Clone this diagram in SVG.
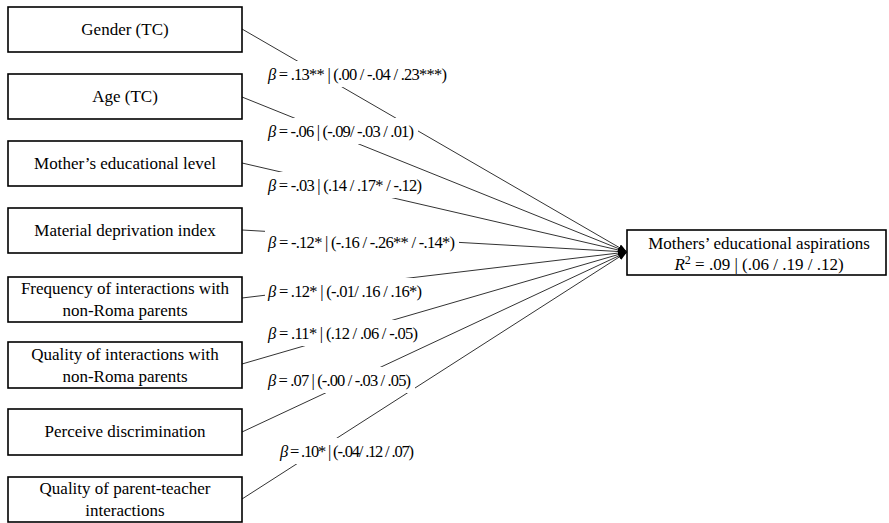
<svg xmlns="http://www.w3.org/2000/svg" width="889" height="523" viewBox="0 0 889 523">
<defs>
<style>
.box{fill:#fff;stroke:#000;stroke-width:1.6}
.bt{font-family:"Liberation Serif","Times New Roman",serif;font-size:17px;fill:#000;text-anchor:middle}
.ln{stroke:#333;stroke-width:1;fill:none;marker-end:url(#ah)}
.lb{fill:#fff;stroke:none}
.lt{font-family:"Liberation Serif","Times New Roman",serif;font-size:16.5px;fill:#000}
.it{font-style:italic}
</style>
<marker id="ah" viewBox="0 0 9 7" refX="9" refY="3.5" markerWidth="9" markerHeight="7" markerUnits="userSpaceOnUse" orient="auto">
<path d="M0,0 L9,3.5 L0,7 z" fill="#000"/>
</marker>
</defs>
<rect width="889" height="523" fill="#fff"/>

<g id="connectors">
<line class="ln" x1="242" y1="29" x2="627" y2="252"/>
<line class="ln" x1="242" y1="97" x2="627" y2="252"/>
<line class="ln" x1="242" y1="163" x2="627" y2="252"/>
<line class="ln" x1="242" y1="230" x2="627" y2="252"/>
<line class="ln" x1="242" y1="298" x2="627" y2="252"/>
<line class="ln" x1="242" y1="364" x2="627" y2="252"/>
<line class="ln" x1="242" y1="432" x2="627" y2="252"/>
<line class="ln" x1="242" y1="499" x2="627" y2="252"/>

<rect class="lb" x="265" y="61" width="185" height="26"/>
<text class="lt" x="268" y="80" textLength="179" lengthAdjust="spacing"><tspan class="it">β</tspan> = .13** | (.00 / -.04 / .23***)</text>
<rect class="lb" x="265" y="118" width="153" height="26"/>
<text class="lt" x="268" y="137" textLength="146" lengthAdjust="spacing"><tspan class="it">β</tspan> = -.06 | (-.09/ -.03 / .01)</text>
<rect class="lb" x="265" y="172" width="161" height="26"/>
<text class="lt" x="268" y="191" textLength="154" lengthAdjust="spacing"><tspan class="it">β</tspan> = -.03 | (.14 / .17* / -.12)</text>
<rect class="lb" x="265" y="229" width="194" height="26"/>
<text class="lt" x="268" y="248" textLength="187" lengthAdjust="spacing"><tspan class="it">β</tspan> = -.12* | (-.16 / -.26** / -.14*)</text>
<rect class="lb" x="265" y="278" width="161" height="26"/>
<text class="lt" x="268" y="297" textLength="154" lengthAdjust="spacing"><tspan class="it">β</tspan> = .12* | (-.01/ .16 / .16*)</text>
<rect class="lb" x="265" y="320" width="157" height="26"/>
<text class="lt" x="268" y="339" textLength="150" lengthAdjust="spacing"><tspan class="it">β</tspan> = .11* | (.12 / .06 / -.05)</text>
<rect class="lb" x="265" y="367" width="150" height="26"/>
<text class="lt" x="268" y="386" textLength="143" lengthAdjust="spacing"><tspan class="it">β</tspan> = .07 | (-.00 / -.03 / .05)</text>
<rect class="lb" x="277" y="438" width="141" height="26"/>
<text class="lt" x="280" y="457" textLength="134" lengthAdjust="spacing"><tspan class="it">β</tspan> = .10* | (-.04/ .12 / .07)</text>
</g>

<g id="gender">
<rect class="box" x="8" y="7" width="234" height="45"/>
<text class="bt" x="125" y="35">Gender (TC)</text>
</g>
<g id="age">
<rect class="box" x="8" y="74" width="234" height="45"/>
<text class="bt" x="125" y="102">Age (TC)</text>
</g>
<g id="mother-education">
<rect class="box" x="8" y="141" width="234" height="45"/>
<text class="bt" x="125" y="169">Mother’s educational level</text>
</g>
<g id="material-deprivation">
<rect class="box" x="8" y="208" width="234" height="45"/>
<text class="bt" x="125" y="236">Material deprivation index</text>
</g>
<g id="frequency-interactions">
<rect class="box" x="8" y="277" width="234" height="45"/>
<text class="bt" x="125" y="294">Frequency of interactions with</text>
<text class="bt" x="125" y="316">non-Roma parents</text>
</g>
<g id="quality-interactions">
<rect class="box" x="8" y="342" width="234" height="46"/>
<text class="bt" x="125" y="360">Quality of interactions with</text>
<text class="bt" x="125" y="382">non-Roma parents</text>
</g>
<g id="perceive-discrimination">
<rect class="box" x="8" y="409" width="234" height="46"/>
<text class="bt" x="125" y="437">Perceive discrimination</text>
</g>
<g id="parent-teacher">
<rect class="box" x="8" y="477" width="234" height="45"/>
<text class="bt" x="125" y="494">Quality of parent-teacher</text>
<text class="bt" x="125" y="516">interactions</text>
</g>
<g id="aspirations">
<rect class="box" x="627" y="230" width="259" height="45"/>
<text class="bt" x="759" y="249">Mothers’ educational aspirations</text>
<text class="bt" x="759" y="270"><tspan class="it">R</tspan><tspan font-size="12" dy="-6">2</tspan><tspan dy="6"> = .09 | (.06 / .19 / .12)</tspan></text>
</g>
</svg>
